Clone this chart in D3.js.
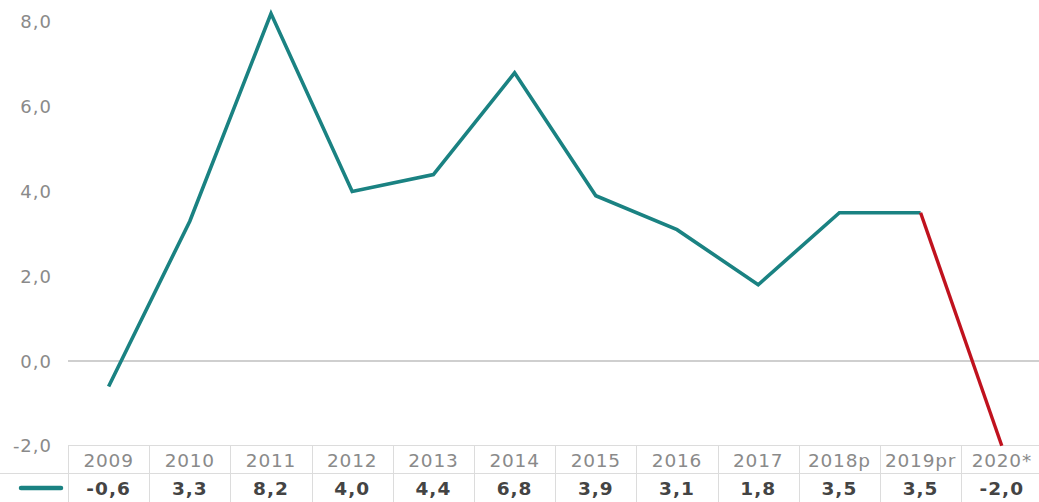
<!DOCTYPE html>
<html><head><meta charset="utf-8">
<script src="https://cdn.jsdelivr.net/npm/d3@7"></script>
<style>body{margin:0;background:#fff}svg{display:block}</style>
</head><body>
<svg id="c" width="1039" height="502"></svg>
<script>
const years = ["2009","2010","2011","2012","2013","2014","2015","2016","2017","2018p","2019pr","2020*"];
const values = [-0.6,3.3,8.2,4.0,4.4,6.8,3.9,3.1,1.8,3.5,3.5,-2.0];
const yTicks = [-2,0,2,4,6,8];
const fmt = v => v.toFixed(1).replace(".", ",");

const svg = d3.select("#c");
const W = 1039;
const x = d3.scaleBand().domain(years).range([68, 1042.4]).padding(0);
const y = d3.scaleLinear().domain([-2, 8]).range([445.8, 22]);
const cx = d => x(d) + x.bandwidth()/2;
const font = "'DejaVu Sans', sans-serif";

// y labels
svg.append("g").selectAll("text").data(yTicks).join("text")
  .attr("x", 52).attr("y", d => y(d)).attr("dy", "0.36em")
  .attr("text-anchor", "end").attr("font-family", font).attr("font-size", 18)
  .attr("fill", "#8a8a8a").attr("letter-spacing", 1).text(fmt);

// zero line
svg.append("line").attr("x1", 68).attr("x2", W).attr("y1", y(0)).attr("y2", y(0))
  .attr("stroke", "#cfcfcf").attr("stroke-width", 2);

// table grid
const tTop = 445, tMid = 473, tBot = 502;
const grid = svg.append("g").attr("stroke", "#dcdcdc").attr("stroke-width", 1);
grid.append("line").attr("x1", 68).attr("x2", W).attr("y1", tTop+0.5).attr("y2", tTop+0.5);
grid.append("line").attr("x1", 0).attr("x2", W).attr("y1", tMid+0.5).attr("y2", tMid+0.5);
grid.selectAll(".v").data(years).join("line")
  .attr("x1", d => Math.round(x(d))+0.5).attr("x2", d => Math.round(x(d))+0.5)
  .attr("y1", tTop).attr("y2", tBot);

// year labels
svg.append("g").selectAll("text").data(years).join("text")
  .attr("x", d => cx(d)).attr("y", 460).attr("dy", "0.36em")
  .attr("text-anchor", "middle").attr("font-family", font).attr("font-size", 18.5)
  .attr("fill", "#8a8a8a").attr("letter-spacing", 0.8).text(d => d);

// value labels
svg.append("g").selectAll("text").data(years).join("text")
  .attr("x", d => cx(d)).attr("y", 488).attr("dy", "0.36em")
  .attr("text-anchor", "middle").attr("font-family", font).attr("font-size", 18.5)
  .attr("font-weight", "bold").attr("fill", "#444").attr("letter-spacing", 1)
  .text((d,i) => fmt(values[i]));

// legend swatch
svg.append("line").attr("x1", 21).attr("x2", 61).attr("y1", 488).attr("y2", 488)
  .attr("stroke", "#1a8282").attr("stroke-width", 4.5).attr("stroke-linecap", "round");

// lines
const pts = years.map((d,i) => [cx(d), y(values[i])]);
const line = d3.line();
svg.append("path").attr("d", line(pts.slice(0, 11))).attr("fill", "none")
  .attr("stroke", "#1a8282").attr("stroke-width", 3.6).attr("stroke-linejoin", "miter");
svg.append("path").attr("d", line(pts.slice(10))).attr("fill", "none")
  .attr("stroke", "#c0121e").attr("stroke-width", 3.4);
</script>
</body></html>
